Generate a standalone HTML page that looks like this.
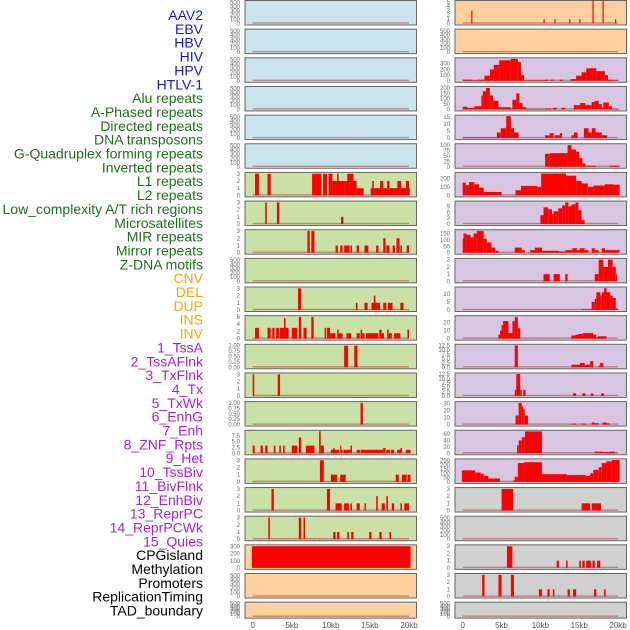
<!DOCTYPE html>
<html><head><meta charset="utf-8">
<style>
html,body{margin:0;padding:0;background:#fff;}
#wrap{position:relative;width:630px;height:630px;overflow:hidden;}
svg{position:absolute;left:0;top:0;}
.lbl{font-family:"Liberation Sans",sans-serif;font-size:14px;}
.tk{font-family:"Liberation Sans",sans-serif;font-size:6px;fill:#666;}
.xt{font-family:"Liberation Sans",sans-serif;font-size:8px;fill:#555;}
</style></head>
<body>
<div id="wrap">
<svg id="chart" width="630" height="630"></svg>
</div>
<script>
// ---- track labels ----
const trackLabels = ["AAV2","EBV","HBV","HIV","HPV","HTLV-1","Alu repeats","A-Phased repeats","Directed repeats","DNA transposons","G-Quadruplex forming repeats","Inverted repeats","L1 repeats","L2 repeats","Low_complexity A/T rich regions","Microsatellites","MIR repeats","Mirror repeats","Z-DNA motifs","CNV","DEL","DUP","INS","INV","1_TssA","2_TssAFlnk","3_TxFlnk","4_Tx","5_TxWk","6_EnhG","7_Enh","8_ZNF_Rpts","9_Het","10_TssBiv","11_BivFlnk","12_EnhBiv","13_ReprPC","14_ReprPCWk","15_Quies","CPGisland","Methylation","Promoters","ReplicationTiming","TAD_boundary"];
const labelGroups = [6,13,5,15,5];
const groupColors = ["#1414e6","#1d6f1d","#ffa500","#a020f0","#000000"];
const xTickValues = [0,5,10,15,20];
const xTickLabels = ["0","5kb","10kb","15kb","20kb"];

// ---- per-panel segment data: [startKb, endKb, value] ----
const L6=[[0.3,0.8,3],[1.9,2.3,3],[7.6,8.8,3],[9.0,9.5,3],[9.7,10.2,3],[10.2,11.8,2],[10.8,11.0,3],[11.8,13.3,2],[12.1,12.9,3],[13.3,14.2,1],[15.1,20.1,1],[15.3,15.5,2],[16.3,16.7,2],[17.2,17.5,2],[18.5,19.0,2],[19.6,20.0,2]];
const L7=[[1.6,1.8,3],[3.1,3.4,3],[11.3,11.6,1]];
const L8=[[7.0,7.3,3],[7.5,7.9,3],[10.6,10.9,1],[11.2,11.5,1],[11.7,12.4,1],[12.5,12.7,1],[13.3,13.6,1],[14.3,14.8,1],[15.8,16.1,1],[16.7,17.0,2],[17.1,17.5,1],[17.9,18.2,1],[18.4,18.8,2],[18.9,19.1,1],[19.7,20.0,1]];
const L10=[[5.8,6.2,3],[13.2,13.4,1],[14.3,14.7,1],[15.2,16.0,1],[15.5,15.7,2],[16.0,16.3,1],[16.7,17.1,1],[17.3,17.9,1],[18.9,19.3,1]];
const L11=[[0.3,0.8,3],[1.9,2.3,3],[2.5,2.8,3],[3.0,3.4,3],[3.5,4.0,3],[4.0,4.2,5.7],[4.2,4.6,3],[5.0,5.7,3],[5.9,6.2,6],[6.5,6.9,3],[7.5,7.8,6],[9.2,9.4,3],[9.5,9.9,3],[9.9,10.6,1.5],[10.8,11.0,2.5],[11.0,11.5,1.5],[12.0,12.6,1.5],[13.3,13.7,1.5],[13.8,14.0,2.5],[14.0,14.3,1.5],[14.5,16.1,1.5],[16.2,16.5,2.5],[16.5,16.8,1.5],[17.2,17.4,2.5],[17.4,17.8,1.5],[18.1,18.9,1.5],[19.8,20.0,2.5]];
const L12=[[11.7,12.2,1],[13.0,13.4,1]];
const L13=[[0.0,0.2,3],[3.2,3.5,3]];
const L14=[[13.8,14.1,1]];
const L15=[[0,0.25,3.3],[1.0,1.3,3.3],[1.6,1.9,3.3],[2.7,2.9,3.3],[3.4,3.6,3.3],[3.9,4.1,3.3],[5.0,5.7,3.3],[5.9,6.2,6.8],[6.8,7.9,3.3],[8.5,8.7,9.5],[8.7,9.1,3.3],[10.0,11.1,1.5],[10.3,10.5,2.2],[11.2,11.3,3.3],[11.3,11.5,1.5],[11.6,12.5,1.5],[12.5,12.7,3.3],[13.3,13.7,1.5],[13.8,15.5,1.5],[15.5,16.7,1.5],[16.7,17.0,2.3],[17.1,17.6,1.5],[17.7,18.1,1.5],[18.5,19.0,1.5],[18.9,19.1,2.3],[19.6,20.2,1.5]];
const L16=[[8.6,9.1,3],[10.0,10.8,1],[11.2,11.9,1],[18.3,18.7,1],[19.1,19.7,1],[19.8,20.2,1]];
const L17=[[2.4,2.7,3],[9.5,9.9,3],[10.6,11.4,1],[11.7,12.3,1],[12.5,12.7,1],[13.3,13.7,1],[14.3,14.5,1],[15.8,16.0,2],[16.5,16.9,1],[17.1,17.3,2],[17.8,18.1,1],[18.9,19.1,1],[19.4,20.0,1]];
const L18=[[2.0,2.2,3],[5.9,6.2,3],[6.5,6.7,3],[10.3,10.6,1],[10.8,11.1,1],[12.1,12.3,1],[12.6,12.9,1],[14.9,15.2,1],[16.2,16.5,1],[17.5,17.7,1]];
const L19=[[-0.1,20.2,305]];
const R0=[[1.1,1.25,3],[10.4,10.55,1],[11.8,11.95,1],[13.7,13.85,1],[15.0,15.15,1],[16.7,16.85,5.5],[18.0,18.15,5.5],[19.6,19.75,1]];
const R2=[[0,1.2,20],[1.2,2.0,10],[2.0,2.8,20],[2.8,3.5,90],[3.5,4.0,200],[4.0,4.7,280],[4.7,6.2,360],[6.2,7.1,385],[7.1,7.5,330],[7.5,7.9,100],[7.9,10.6,10],[10.6,11.0,20],[11.3,11.7,20],[12.5,12.9,20],[13.9,14.6,30],[14.6,15.3,90],[15.3,15.9,150],[15.9,17.2,220],[17.2,18.3,170],[18.3,18.7,100],[18.7,19.4,20],[19.4,20.1,10]];
const R3=[[0,0.6,25],[0.6,1.5,15],[1.5,2.4,30],[2.4,2.6,130],[2.6,3.0,170],[3.0,3.5,200],[3.5,3.9,130],[3.9,4.6,80],[4.6,6.2,20],[6.2,6.4,10],[6.4,6.9,90],[6.9,7.3,150],[7.3,7.7,60],[7.7,8.2,20],[8.2,10.6,5],[10.6,11.4,10],[11.6,12.1,15],[12.7,13.2,15],[14.3,15.1,40],[15.1,15.8,60],[15.8,16.6,40],[16.6,17.0,70],[17.0,17.5,80],[17.5,17.9,50],[17.9,18.1,20],[18.1,18.8,65],[18.8,19.2,30],[19.2,20.2,5]];
const R4=[[0,4.4,0.5],[4.4,4.9,4],[4.9,5.6,7],[5.6,6.2,15.5],[6.2,6.6,7],[6.6,7.2,4],[10.6,11.2,2],[11.2,11.7,3.5],[11.8,12.5,2],[12.5,12.8,3.5],[14.0,14.3,2],[14.3,14.8,4],[15.6,16.2,7],[16.2,16.6,4],[16.6,17.1,7],[17.1,17.9,4],[17.9,18.6,2]];
const R5=[[10.6,11.2,60],[11.2,13.5,63],[13.5,14.0,100],[14.0,14.6,80],[14.6,15.0,70],[15.0,15.4,40],[15.4,15.8,15],[15.8,17.1,5],[18.9,20.2,5]];
const R6=[[0,0.4,150],[0.4,0.8,120],[0.8,1.5,155],[1.5,2.1,130],[2.1,2.7,90],[2.7,5.0,40],[6.8,7.5,60],[7.5,9.6,110],[9.6,10.1,100],[10.1,13.3,255],[13.3,14.6,230],[14.6,15.3,170],[15.3,16.1,140],[16.1,16.8,100],[16.8,18.3,115],[18.3,19.4,130],[19.4,20.2,125]];
const R7=[[10.0,10.4,4.5],[10.4,11.0,8.5],[11.0,11.5,7.5],[11.5,11.7,5],[11.7,12.3,6.5],[12.3,12.8,8],[12.8,13.2,9.5],[13.2,13.6,11],[13.6,14.0,9],[14.0,14.5,10],[14.5,14.9,11],[14.9,15.3,7],[15.3,15.7,2]];
const R8=[[0,0.1,110],[0.1,0.5,150],[0.5,1.0,140],[1.0,1.4,120],[1.4,1.8,150],[1.8,2.7,170],[2.7,3.1,110],[3.1,3.7,80],[3.7,4.2,40],[4.2,4.6,15],[6.7,7.6,40],[7.6,8.0,20],[8.7,9.3,20],[9.3,10.2,40],[10.2,12.4,15],[12.4,13.2,10],[13.2,14.1,20],[14.1,14.7,35],[14.7,15.1,20],[15.1,15.7,35],[15.7,16.2,20],[16.6,17.0,35],[17.0,17.5,20],[17.9,18.3,35],[18.3,20.2,20]];
const R9=[[10.4,11.2,1],[11.7,12.5,1],[13.2,13.5,1],[17.0,17.5,1],[17.5,18.1,3],[18.1,18.7,2],[18.7,19.3,3],[19.3,19.7,2],[19.7,19.8,1]];
const R10=[[15.3,16.6,0.5],[16.6,17.0,5],[17.0,17.2,7],[17.2,17.7,11],[17.7,17.9,9],[17.9,18.2,11],[18.2,18.5,13.5],[18.5,19.0,11],[19.0,19.3,9],[19.3,19.7,7.5],[19.7,20.0,1]];
const R11=[[4.6,4.8,5],[4.8,5.0,10],[5.0,5.2,17],[5.2,5.9,22],[5.9,6.4,7],[6.4,6.7,22],[6.7,7.1,27],[7.1,7.4,13],[14.0,14.5,4],[14.5,14.9,5],[14.9,15.5,6],[15.5,16.8,7],[16.8,17.2,5],[17.2,17.4,2],[17.4,18.5,3]];
const R12=[[6.7,7.1,12.5],[14.0,15.1,1.5],[15.1,15.7,2.5],[15.7,16.4,1.5],[16.4,16.8,3.5],[17.5,17.7,1],[17.7,18.1,2.5]];
const R13=[[6.7,6.9,3.5],[6.9,7.4,12.5],[7.4,7.6,3.5],[7.8,8.1,3.5],[14.2,14.6,1.5],[15.4,15.8,1.5],[16.5,16.8,1.5],[17.8,18.2,1.5]];
const R14=[[6.8,7.2,13],[7.2,7.6,31],[7.6,7.8,26],[7.8,8.0,22],[8.0,8.4,13],[14.0,14.6,1.5],[15.2,15.9,1.5],[16.6,17.0,3],[17.0,17.5,2],[18.0,18.5,3],[18.5,18.9,2]];
const R15=[[7.0,7.2,25],[7.2,7.6,40],[7.6,8.0,50],[8.0,10.2,68],[17.0,17.9,5],[17.9,18.9,4],[18.9,19.6,5],[19.6,19.8,2]];
const R16=[[-0.1,1.6,135],[1.6,2.3,110],[2.3,2.7,95],[2.7,3.3,70],[3.3,4.8,40],[6.5,6.7,20],[6.7,7.1,60],[7.1,7.9,220],[7.9,10.2,230],[10.2,13.4,90],[13.4,15.8,80],[15.8,16.4,70],[16.4,16.8,100],[16.8,17.5,140],[17.5,17.9,170],[17.9,18.5,220],[18.5,19.2,240],[19.2,20.2,255]];
const R17=[[5.0,6.5,3],[15.3,16.4,1],[16.6,17.8,1]];
const R19=[[5.7,6.4,3],[12.1,12.4,1],[13.3,13.5,1],[15.0,15.2,1],[15.4,15.7,1],[15.9,16.5,1],[16.7,17.0,1],[17.3,17.7,1]];
const R20=[[2.5,2.8,3],[4.6,5.0,3],[6.2,6.6,3],[9.8,10.2,1],[10.9,11.2,1],[11.6,11.8,1],[13.5,13.8,1],[14.2,14.6,1],[16.9,17.2,1],[18.2,18.4,1]];

// ---- tick sets ----
const T500=[0,100,200,300,400,500], T3=[0,1,2,3], T1=[0,0.25,0.5,0.75,1], T6=[0,2,4,6], T75=[0,2.5,5,7.5], T300=[0,100,200,300];
const T5=[0,1,2,3,4,5], T15=[0,5,10,15], T100=[0,25,50,75,100], T200s=[0,100,200], T9=[0,3,6,9], T150=[0,50,100,150], T10=[0,5,10], T20=[0,10,20], T125=[0,2.5,5,7.5,10,12.5], T30=[0,10,20,30], T60=[0,20,40,60], T250=[0,50,100,150,200,250], T200=[0,50,100,150,200];

const BLUE="#c9e4ec", GREEN="#c9e1a5", PEACH="#fdd09e", PURP="#d6c6e2", GREY="#d0d0d0";
// [side, row, bg, ticks, ymax, data, tickfmt]
const panels=[
 ["L",0,BLUE,T500,520,[]],["L",1,BLUE,T500,520,[]],["L",2,BLUE,T500,520,[]],["L",3,BLUE,T500,520,[]],["L",4,BLUE,T500,520,[]],["L",5,BLUE,T500,520,[]],
 ["L",6,GREEN,T3,3.05,L6],["L",7,GREEN,T3,3.05,L7],["L",8,GREEN,T3,3.05,L8],["L",9,GREEN,T500,520,[]],["L",10,GREEN,T3,3.05,L10],
 ["L",11,GREEN,T6,6.1,L11],["L",12,GREEN,T1,1.02,L12,2],["L",13,GREEN,T3,3.05,L13],["L",14,GREEN,T1,1.02,L14,2],["L",15,GREEN,T75,9.5,L15,1],
 ["L",16,GREEN,T3,3.05,L16],["L",17,GREEN,T3,3.05,L17],["L",18,GREEN,T3,3.05,L18],["L",19,PEACH,T300,310,L19],["L",20,PEACH,T500,520,[]],["L",21,PEACH,T500,520,[]],
 ["R",0,PEACH,T5,5.1,R0],["R",1,PEACH,T500,520,[]],["R",2,PURP,T300,387,R2],["R",3,PURP,T200,205,R3],["R",4,PURP,T15,15.6,R4],["R",5,PURP,T100,102,R5],
 ["R",6,PURP,T200s,257,R6],["R",7,PURP,T9,11.2,R7],["R",8,PURP,T150,172,R8],["R",9,PURP,T3,3.05,R9],["R",10,PURP,T10,13.6,R10],["R",11,PURP,T20,27.5,R11],
 ["R",12,PURP,T125,12.6,R12,1],["R",13,PURP,T125,12.6,R13,1],["R",14,PURP,T30,31.5,R14],["R",15,PURP,T60,68.5,R15],["R",16,PURP,T250,257,R16],
 ["R",17,GREY,T3,3.05,R17],["R",18,GREY,T500,520,[]],["R",19,GREY,T3,3.05,R19],["R",20,GREY,T3,3.05,R20],["R",21,GREY,T500,520,[]]
];

const NS="http://www.w3.org/2000/svg";
const svg=document.getElementById('chart');
function mk(tag,attrs,parent){const e=document.createElementNS(NS,tag);for(const k in attrs)e.setAttribute(k,attrs[k]);(parent||svg).appendChild(e);return e;}

// labels
let li=0;
labelGroups.forEach((n,g)=>{for(let k=0;k<n;k++){
  const t=mk('text',{x:203,y:15+13.85*li+5,'text-anchor':'end',class:'lbl',fill:groupColors[g]});
  t.textContent=trackLabels[li];
  
  
  li++;}});

const geom={L:{x0:245,x1:416.5,k0:252.7,kpx:7.815,tx:240},R:{x0:455,x1:626.5,k0:462.7,kpx:7.77,tx:450}};
function xScale(side,kb){const g=geom[side];return g.k0+kb*g.kpx;}

panels.forEach(p=>{
  const [side,row,bg,ticks,ymax,data,fmt]=p;
  const g=geom[side];
  const top=0.5+28.65*row, h=row===21?16:24.5;
  const base=top+h-1.5, ytop=top+1;
  const yS=v=>base-(v/ymax)*(base-ytop);
  const grp=mk('g',{});
  
  
  const r=mk('rect',{x:g.x0,y:top,width:g.x1-g.x0,height:h,fill:bg,stroke:'#666','stroke-width':1},grp);
  
  
  const bl=mk('rect',{x:xScale(side,0),y:base-1.2,width:xScale(side,20)-xScale(side,0),height:1.4,fill:'#b04040',opacity:0.55},grp);
  
  
  data.forEach(d=>{
    const x1=xScale(side,d[0]),x2=xScale(side,d[1]);
    const y=yS(d[2]);
    const b=mk('rect',{x:x1,y:y,width:Math.max(1.2,x2-x1),height:base-y,fill:'#ff0000'},grp);
    
    
  });
  ticks.forEach(t=>{
    const tt=mk('text',{x:g.tx,y:yS(t)+2,'text-anchor':'end',class:'tk'},grp);
    tt.textContent=fmt?t.toFixed(fmt):String(t);
    
    
  });
});

['L','R'].forEach(side=>{
  xTickValues.forEach((v,i)=>{
    const t=mk('text',{x:xScale(side,v),y:628,'text-anchor':'middle',class:'xt'});
    t.textContent=xTickLabels[i];
    
    
  });
});
</script>
</body></html>
